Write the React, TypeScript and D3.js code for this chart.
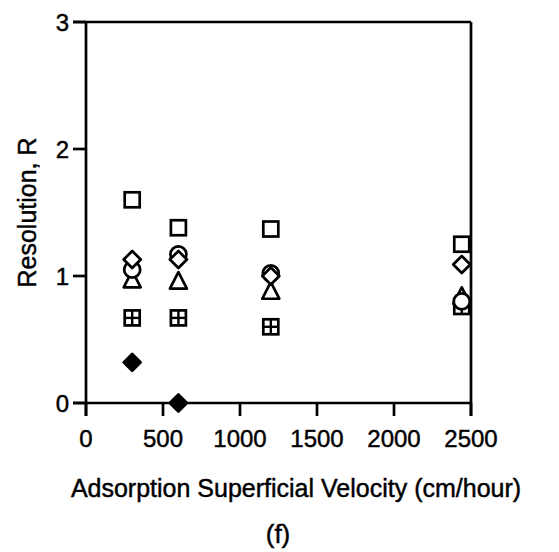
import React from "react";
import * as d3 from "d3";

const velocities = [300, 600, 1200, 2440];
const openSquare = [1.6, 1.38, 1.37, 1.25];
const openDiamond = [1.13, 1.13, 1.0, 1.09];
const openCircle = [1.05, 1.17, 1.02, 0.8];
const openTriangle = [0.97, 0.96, 0.88, 0.84];
const boxedPlus = [0.67, 0.67, 0.6, 0.76];
const filledDiamondX = [300, 600];
const filledDiamond = [0.32, 0.0];

const xTicks = [0, 500, 1000, 1500, 2000, 2500];
const yTicks = [0, 1, 2, 3];

const FONT = "'Liberation Sans', Arial, Helvetica, sans-serif";

export default function App() {
  const x = d3.scaleLinear().domain([0, 2500]).range([86, 471]);
  const y = d3.scaleLinear().domain([0, 3]).range([403, 22]);
  const sw = 2.7;
  const s = 7.5;
  const ts = { stroke: "black", strokeWidth: 0.45 };

  const square = (cx: number, cy: number, k: string) => (
    <rect key={k} x={cx - s} y={cy - s} width={2 * s} height={2 * s} fill="white" stroke="black" strokeWidth={sw} />
  );
  const plusBox = (cx: number, cy: number, k: string) => (
    <g key={k}>
      <rect x={cx - s} y={cy - s} width={2 * s} height={2 * s} fill="white" stroke="black" strokeWidth={sw} />
      <line x1={cx - s} x2={cx + s} y1={cy} y2={cy} stroke="black" strokeWidth={2.4} />
      <line x1={cx} x2={cx} y1={cy - s} y2={cy + s} stroke="black" strokeWidth={2.4} />
    </g>
  );
  const diamond = (cx: number, cy: number, k: string, filled = false) => (
    <path key={k} d={`M${cx},${cy - 8.5}L${cx + 8.5},${cy}L${cx},${cy + 8.5}L${cx - 8.5},${cy}Z`} fill={filled ? "black" : "white"} stroke="black" strokeWidth={sw} strokeLinejoin="round" />
  );
  const circle = (cx: number, cy: number, k: string) => (
    <circle key={k} cx={cx} cy={cy} r={8} fill="white" stroke="black" strokeWidth={sw} />
  );
  const triangle = (cx: number, cy: number, k: string) => (
    <path key={k} d={`M${cx},${cy - 9}L${cx + 8.5},${cy + 7.5}L${cx - 8.5},${cy + 7.5}Z`} fill="white" stroke="black" strokeWidth={sw} strokeLinejoin="round" />
  );

  return (
    <svg width={559} height={552} style={{ position: "absolute", left: 0, top: 0 }} fontFamily={FONT}>
      <rect width={559} height={552} fill="white" />
      <line x1={x(0)} x2={x(0)} y1={y(3)} y2={y(0) + 13} stroke="black" strokeWidth={sw} />
      <line x1={x(0) - 13} x2={x(2500)} y1={y(0)} y2={y(0)} stroke="black" strokeWidth={sw} />
      <line x1={x(0) - 13} x2={x(2500)} y1={y(3)} y2={y(3)} stroke="black" strokeWidth={sw} />
      <line x1={x(2500)} x2={x(2500)} y1={y(3)} y2={y(0) + 13} stroke="black" strokeWidth={sw} />
      {yTicks.map((t) => (
        <g key={"y" + t}>
          <line x1={x(0) - 13} x2={x(0)} y1={y(t)} y2={y(t)} stroke="black" strokeWidth={sw} />
          <text x={x(0) - 17} y={y(t)} dy="0.36em" textAnchor="end" fontSize={24} {...ts}>{t}</text>
        </g>
      ))}
      {xTicks.map((t) => (
        <g key={"x" + t}>
          <line x1={x(t)} x2={x(t)} y1={y(0)} y2={y(0) + 13} stroke="black" strokeWidth={sw} />
          <text x={x(t)} y={447} textAnchor="middle" fontSize={24} {...ts}>{t}</text>
        </g>
      ))}
      <text x={296} y={497} textAnchor="middle" fontSize={25} {...ts}>Adsorption Superficial Velocity (cm/hour)</text>
      <text x={278} y={543} textAnchor="middle" fontSize={26} {...ts}>(f)</text>
      <text transform={`translate(36,${y(1.5)}) rotate(-90)`} textAnchor="middle" fontSize={25} {...ts}>Resolution, R</text>
      {velocities.map((v, i) => square(x(v), y(openSquare[i]), "sq" + i))}
      {velocities.map((v, i) => plusBox(x(v), y(boxedPlus[i]), "pb" + i))}
      {velocities.map((v, i) => triangle(x(v), y(openTriangle[i]), "tr" + i))}
      {velocities.map((v, i) => circle(x(v), y(openCircle[i]), "ci" + i))}
      {velocities.map((v, i) => diamond(x(v), y(openDiamond[i]), "di" + i))}
      {filledDiamondX.map((v, i) => diamond(x(v), y(filledDiamond[i]), "fd" + i, true))}
    </svg>
  );
}
